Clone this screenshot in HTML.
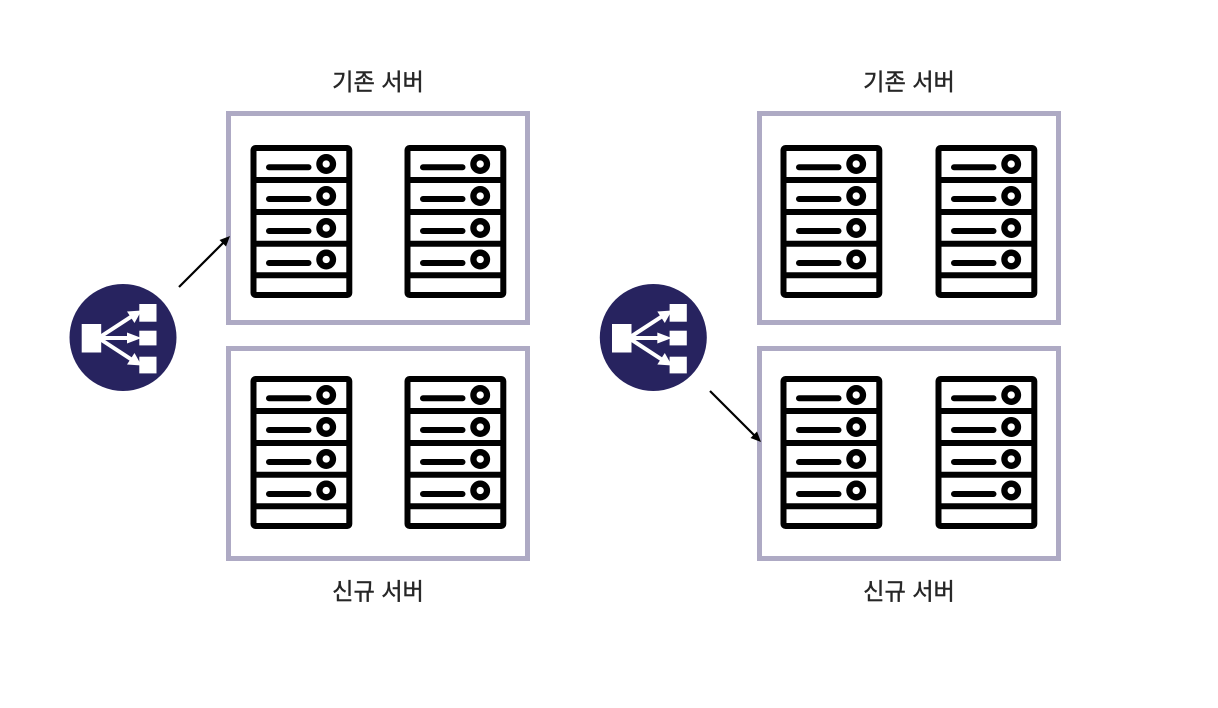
<!DOCTYPE html>
<html lang="ko"><head><meta charset="utf-8"><style>
html,body{margin:0;padding:0;background:#fff;width:1218px;height:708px;overflow:hidden}
svg{display:block}
text{font-family:"Liberation Sans","Noto Sans CJK KR",sans-serif;font-size:23.2px;fill:#262626;stroke:#262626;stroke-width:.4px;text-anchor:middle}
</style></head><body>
<svg width="1218" height="708" viewBox="0 0 1218 708" xmlns="http://www.w3.org/2000/svg">
<defs>
<g id="srv">
<rect x="3" y="3" width="95.800" height="147" rx="2" fill="#fff" stroke="#000" stroke-width="6"/>
<path d="M3 35H98M3 67H98M3 98.700H98M3 130.300H98" stroke="#000" stroke-width="6" fill="none"/>
<path d="M18.500 22.300H58M18.500 54H58M18.500 86H58M18.500 118H58" stroke="#000" stroke-width="6" stroke-linecap="round" fill="none"/>
<g fill="#fff" stroke="#000" stroke-width="6.300"><circle cx="75.700" cy="19" r="6.800"/><circle cx="75.700" cy="51" r="6.800"/><circle cx="75.700" cy="83" r="6.800"/><circle cx="75.700" cy="114.500" r="6.800"/></g>
</g>
<g id="lb">
<circle cx="123" cy="337.500" r="53.500" fill="#27235f"/>
<g fill="#fff">
<rect x="81.700" y="324" width="19.500" height="28.500"/>
<rect x="139.300" y="304" width="17.200" height="17.700"/>
<rect x="139.300" y="330.700" width="17.200" height="14.700"/>
<rect x="139.300" y="356.700" width="17.200" height="16.700"/>
</g>
<path d="M100 337L133 315.500M100 338H130M100 339L133 360.500" stroke="#fff" stroke-width="4" fill="none"/>
<path d="M141.500 310.500L127 311.500L134.500 323Z" fill="#fff"/>
<path d="M141.500 338L127 332.500V343.500Z" fill="#fff"/>
<path d="M141.500 365.500L127 364.500L134.500 353Z" fill="#fff"/>
</g>
<g id="panel">
<rect x="228.500" y="113.500" width="299" height="209" fill="none" stroke="#aeaac4" stroke-width="5"/>
<rect x="228.500" y="348.500" width="299" height="210" fill="none" stroke="#aeaac4" stroke-width="5"/>
</g>
</defs>
<use href="#panel"/>
<use href="#panel" x="531"/>
<use href="#srv" x="250.500" y="145"/><use href="#srv" x="404.500" y="145"/>
<use href="#srv" x="250.500" y="376"/><use href="#srv" x="404.500" y="376"/>
<use href="#srv" x="780.500" y="145"/><use href="#srv" x="935.500" y="145"/>
<use href="#srv" x="780.500" y="376"/><use href="#srv" x="935.500" y="376"/>
<use href="#lb"/>
<use href="#lb" x="530.300"/>
<path d="M179 287L223 243" stroke="#000" stroke-width="2.200" fill="none"/>
<path d="M230 236L226 246.500L219.500 240Z" fill="#000"/>
<path d="M710 391L754 435" stroke="#000" stroke-width="2.200" fill="none"/>
<path d="M761 442L750.500 438L757 431.500Z" fill="#000"/>
<text x="378" y="90">기존 서버</text>
<text x="909" y="90">기존 서버</text>
<text x="378" y="599.500">신규 서버</text>
<text x="909" y="599.500">신규 서버</text>
</svg>
</body></html>
